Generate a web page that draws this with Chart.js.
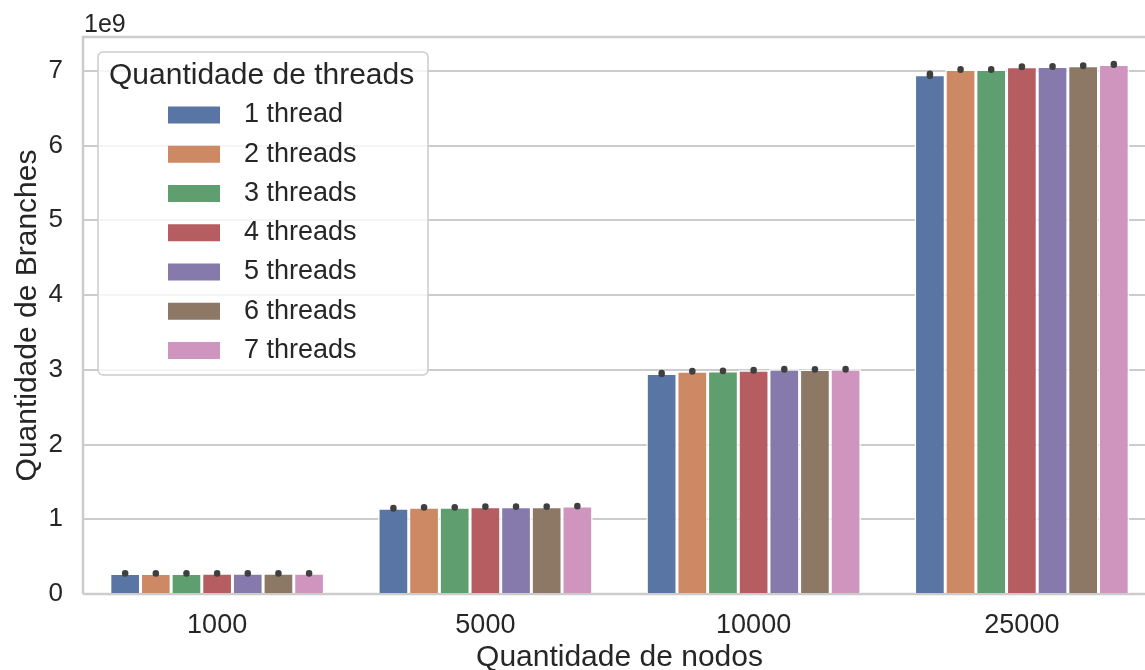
<!DOCTYPE html>
<html>
<head>
<meta charset="utf-8">
<title>Quantidade de Branches</title>
<script src="https://cdn.jsdelivr.net/npm/chart.js@4.4.1/dist/chart.umd.min.js"></script>
<style>
  html, body { margin: 0; padding: 0; background: #fff; overflow: hidden; }
  #wrap { position: relative; width: 1156px; height: 670px; }
</style>
</head>
<body>
<div id="wrap"><canvas id="branchChart"></canvas></div>
<script>
const nodos = ['1000', '5000', '10000', '25000'];
const threadLabels = ['1 thread', '2 threads', '3 threads', '4 threads', '5 threads', '6 threads', '7 threads'];
const threadColors = ['#5975a4', '#cc8963', '#5f9e6e', '#b55d60', '#857aab', '#8d7866', '#d095bf'];
const yTicks = [0, 1e9, 2e9, 3e9, 4e9, 5e9, 6e9, 7e9];

// mean branch count per node count, one array per thread count
const branches1 = [0.275e9, 1.146e9, 2.950e9, 6.947e9];
const branches2 = [0.275e9, 1.159e9, 2.981e9, 7.018e9];
const branches3 = [0.275e9, 1.159e9, 2.985e9, 7.018e9];
const branches4 = [0.276e9, 1.168e9, 2.994e9, 7.054e9];
const branches5 = [0.276e9, 1.168e9, 3.008e9, 7.058e9];
const branches6 = [0.276e9, 1.168e9, 3.005e9, 7.067e9];
const branches7 = [0.276e9, 1.176e9, 3.008e9, 7.085e9];

// half width of the confidence interval
const ci1 = [0.002e9, 0.003e9, 0.006e9, 0.012e9];
const ci2 = [0.002e9, 0.002e9, 0.003e9, 0.004e9];
const ci3 = [0.002e9, 0.002e9, 0.003e9, 0.004e9];
const ci4 = [0.002e9, 0.002e9, 0.003e9, 0.004e9];
const ci5 = [0.002e9, 0.002e9, 0.003e9, 0.004e9];
const ci6 = [0.002e9, 0.002e9, 0.003e9, 0.004e9];
const ci7 = [0.002e9, 0.002e9, 0.003e9, 0.005e9];

const allBranches = [branches1, branches2, branches3, branches4, branches5, branches6, branches7];
const allCi = [ci1, ci2, ci3, ci4, ci5, ci6, ci7];

const textColor = '#262626';
const gridColor = '#cccccc';
const fontFamily = '"Liberation Sans", Arial, sans-serif';

Chart.defaults.font.family = fontFamily;
Chart.defaults.color = textColor;

// light grey frame around the plot area
const frame = {
  id: 'frame',
  beforeDatasetsDraw(chart) {
    const { ctx, chartArea: a } = chart;
    ctx.save();
    ctx.strokeStyle = gridColor;
    ctx.lineWidth = 2.5;
    ctx.beginPath();
    ctx.moveTo(a.left, a.bottom);
    ctx.lineTo(a.left, a.top);
    ctx.lineTo(a.right, a.top);
    ctx.moveTo(a.left, a.bottom);
    ctx.lineTo(a.right, a.bottom);
    ctx.stroke();
    ctx.restore();
  }
};

// error bars on top of each bar
const errorBars = {
  id: 'errorBars',
  afterDatasetsDraw(chart) {
    const { ctx } = chart;
    const yScale = chart.scales.y;
    ctx.save();
    ctx.strokeStyle = '#3f3f3f';
    ctx.lineWidth = 6.5;
    ctx.lineCap = 'round';
    chart.data.datasets.forEach((ds, i) => {
      const meta = chart.getDatasetMeta(i);
      meta.data.forEach((bar, j) => {
        const v = ds.data[j];
        const e = allCi[i][j];
        ctx.beginPath();
        ctx.moveTo(bar.x, yScale.getPixelForValue(v - e));
        ctx.lineTo(bar.x, yScale.getPixelForValue(v + e));
        ctx.stroke();
      });
    });
    ctx.restore();
  }
};

// legend box in the upper left corner, plus the 1e9 offset label
const legendBox = {
  id: 'legendBox',
  afterDraw(chart) {
    const { ctx, chartArea: a } = chart;
    const bx = a.left + 15, by = a.top + 15, bw = 330, bh = 323;
    ctx.save();

    ctx.fillStyle = textColor;
    ctx.font = '25px ' + fontFamily;
    ctx.textAlign = 'left';
    ctx.textBaseline = 'alphabetic';
    ctx.fillText('1e9', a.left + 1, a.top - 5);

    ctx.beginPath();
    ctx.roundRect(bx, by, bw, bh, 5);
    ctx.fillStyle = 'rgba(255,255,255,0.8)';
    ctx.fill();
    ctx.strokeStyle = gridColor;
    ctx.lineWidth = 1.5;
    ctx.stroke();

    ctx.fillStyle = textColor;
    ctx.textBaseline = 'middle';
    ctx.font = '30px ' + fontFamily;
    ctx.fillText('Quantidade de threads', bx + 11, by + 24);

    ctx.font = '27px ' + fontFamily;
    chart.data.datasets.forEach((ds, i) => {
      const cy = by + 63 + i * 39.25;
      ctx.fillStyle = ds.backgroundColor;
      ctx.fillRect(bx + 70, cy - 8.5, 52, 17);
      ctx.fillStyle = textColor;
      ctx.fillText(ds.label, bx + 146, cy);
    });
    ctx.restore();
  }
};

const datasets = allBranches.map((values, i) => ({
  label: threadLabels[i],
  data: values,
  backgroundColor: threadColors[i],
  borderColor: '#ffffff',
  borderWidth: 1.5,
  categoryPercentage: 0.8,
  barPercentage: 1.0
}));

new Chart(document.getElementById('branchChart'), {
  type: 'bar',
  data: { labels: nodos, datasets },
  options: {
    responsive: true,
    maintainAspectRatio: false,
    animation: false,
    layout: { padding: { top: 37, right: 0, left: 0, bottom: 0 } },
    plugins: {
      legend: { display: false },
      tooltip: { enabled: false }
    },
    scales: {
      x: {
        afterFit: s => { s.height = 76; },
        grid: { display: false, drawTicks: false },
        border: { display: false },
        ticks: { padding: 15, color: textColor, font: { size: 27 } },
        title: {
          display: true,
          text: 'Quantidade de nodos',
          color: textColor,
          font: { size: 30, lineHeight: 0.8 },
          padding: { top: 0, bottom: 0 }
        }
      },
      y: {
        min: 0,
        max: 7.452e9,
        afterFit: s => { s.width = 83; },
        afterBuildTicks: s => { s.ticks = yTicks.map(v => ({ value: v })); },
        grid: { color: gridColor, lineWidth: 2, drawTicks: false },
        border: { display: false },
        ticks: {
          padding: 20,
          color: textColor,
          font: { size: 26 },
          callback: v => v / 1e9
        },
        title: {
          display: true,
          text: 'Quantidade de Branches',
          color: textColor,
          font: { size: 30, lineHeight: 1 },
          padding: { top: 13, bottom: 0 }
        }
      }
    }
  },
  plugins: [frame, errorBars, legendBox]
});
</script>
</body>
</html>
